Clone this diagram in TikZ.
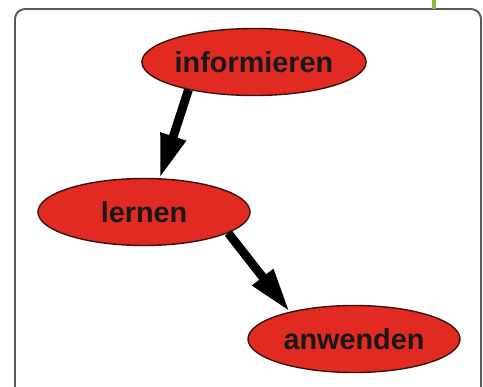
\documentclass[tikz,border=0pt]{standalone}
\usepackage{fontspec}
\setmainfont{Liberation Sans}
\usepackage{xcolor}
\usepackage{tikz}
\usetikzlibrary{shapes.geometric, arrows.meta}
\definecolor{boxred}{HTML}{E12B22}
\definecolor{rimbrown}{HTML}{3A140C}
\definecolor{framegray}{HTML}{5A5A5A}
\definecolor{tabgreen}{HTML}{8CB83C}
\tikzstyle{phase} = [ellipse, 
minimum width=4.24cm, 
minimum height=1.34cm, 
inner sep=0pt,
text centered, 
draw=rimbrown, 
line width=0.8pt,
fill=boxred,
text=black!90,
font=\bfseries\fontsize{16.4}{18}\selectfont]
\tikzstyle{arrow} = [line width=5pt,-{Triangle[length=25pt,width=14pt]},black]

\begin{document}
\begin{tikzpicture}[node distance=3cm]
\useasboundingbox (0,0) rectangle (9.66,-7.74);
% frame and tab
\draw [framegray, line width=1.1pt, rounded corners=0.2cm] (0.30,-7.8) -- (0.30,-0.18) -- (9.62,-0.18) -- (9.62,-7.8);
\draw [tabgreen, line width=2.2pt] (8.68,0) -- (8.68,-0.18);

\node (info) [phase] at (5.08,-1.24) {informieren};
\node (lern) [phase, below of=info, xshift=-2.2cm] {lernen};
\node (anw) [phase, below of=lern, xshift=4.2cm, yshift=0.46cm] {anwenden};

\draw [arrow] (info.-157) -- (lern.65);
\draw [arrow] (lern.-14) -- (anw.157);
\end{tikzpicture}
\end{document}
